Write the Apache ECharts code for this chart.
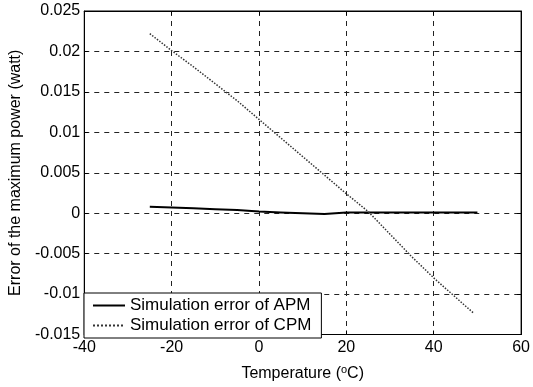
<!DOCTYPE html>
<html><head><meta charset="utf-8">
<script src="https://cdn.jsdelivr.net/npm/echarts@6/dist/echarts.min.js"></script>
<style>html,body{margin:0;padding:0;background:#fff}#c{width:533px;height:387px}</style>
</head><body><div id="c"></div>
<script>
var temps = [-25,-20,-15,-10,-5,0,5,10,15,20,25,30,35,40,45,49];
var cpmError = [0.0222,0.0201,0.0181,0.0160,0.0139,0.0116,0.0093,0.0070,0.0047,0.0024,0.0002,-0.0026,-0.0054,-0.0080,-0.0104,-0.0123];
var apmTemps = [-25,-20,-15,-10,-5,0,5,10,15,20,25,30,35,40,45,50];
var apmError = [0.0008,0.0007,0.0006,0.0005,0.0004,0.0002,0.0001,0.0000,-0.0001,0.0001,0.0001,0.0001,0.0001,0.0001,0.0001,0.0001];
var xTicks = [-40,-20,0,20,40,60];
var yTicks = [-0.015,-0.01,-0.005,0,0.005,0.01,0.015,0.02,0.025];
var seriesNames = ['Simulation error of APM','Simulation error of CPM'];

var font = 'Liberation Sans, Arial, sans-serif';
var chart = echarts.init(document.getElementById('c'));
function pair(xs, ys){ return xs.map(function(x,i){return [x, ys[i]];}); }
var mirrorX = {type:'value',position:'top',min:-40,max:60,interval:20,
  axisLine:{show:true,onZero:false,lineStyle:{color:'#000'}},
  axisTick:{show:true,inside:true,length:4,lineStyle:{color:'#000'}},
  axisLabel:{show:false},splitLine:{show:false}};
var mirrorY = {type:'value',position:'right',min:-0.015,max:0.025,interval:0.005,
  axisLine:{show:true,onZero:false,lineStyle:{color:'#000'}},
  axisTick:{show:true,inside:true,length:4,lineStyle:{color:'#000'}},
  axisLabel:{show:false},splitLine:{show:false}};
chart.setOption({
  animation:false,
  backgroundColor:'#fff',
  grid:{left:81,right:10,top:11,bottom:47,show:true,borderColor:'#000',borderWidth:1},
  legend:{
    orient:'vertical',left:84,top:293,
    data:seriesNames,
    backgroundColor:'#fff',borderColor:'#000',borderWidth:1,
    padding:[4,10,4,8],itemGap:3,itemWidth:32,itemHeight:10,
    itemStyle:{opacity:0},
    textStyle:{fontFamily:font,fontSize:17,color:'#000'}
  },
  xAxis:[{
    type:'value',min:-40,max:60,interval:20,
    axisLine:{show:true,onZero:false,lineStyle:{color:'#000'}},
    axisTick:{show:true,inside:true,length:4,lineStyle:{color:'#000'}},
    axisLabel:{fontFamily:font,fontSize:16,color:'#000',margin:5,
      formatter:function(v){return xTicks.indexOf(v)>=0?String(v):'';}},
    splitLine:{show:true,lineStyle:{color:'#222',type:[5,5],width:1}},
    name:'{a|Temperature (}{s|o}{a|C)}',nameLocation:'middle',nameGap:30,
    nameTextStyle:{rich:{a:{fontFamily:font,fontSize:16,color:'#000'},s:{fontFamily:font,fontSize:11,color:'#000',verticalAlign:'top',padding:[0,0,8,0]}}}
  }, mirrorX],
  yAxis:[{
    type:'value',min:-0.015,max:0.025,interval:0.005,
    axisLine:{show:true,onZero:false,lineStyle:{color:'#000'}},
    axisTick:{show:true,inside:true,length:4,lineStyle:{color:'#000'}},
    axisLabel:{fontFamily:font,fontSize:16,color:'#000',margin:4,
      formatter:function(v){var r=Math.round(v*1000)/1000; return String(r);}},
    splitLine:{show:true,lineStyle:{color:'#222',type:[5,5],width:1}},
    name:'Error of the maximum power (watt)',nameLocation:'middle',nameGap:60,
    nameTextStyle:{fontFamily:font,fontSize:16,color:'#000'}
  }, mirrorY],
  series:[
    {name:seriesNames[0],type:'line',data:pair(apmTemps,apmError),showSymbol:false,symbol:'none',
      lineStyle:{color:'#000',width:2,type:'solid'},itemStyle:{color:'#000'}},
    {name:seriesNames[1],type:'line',data:pair(temps,cpmError),showSymbol:false,symbol:'none',
      lineStyle:{color:'#333',width:1.5,type:'dotted'},itemStyle:{color:'#333'}}
  ]
});
</script></body></html>
